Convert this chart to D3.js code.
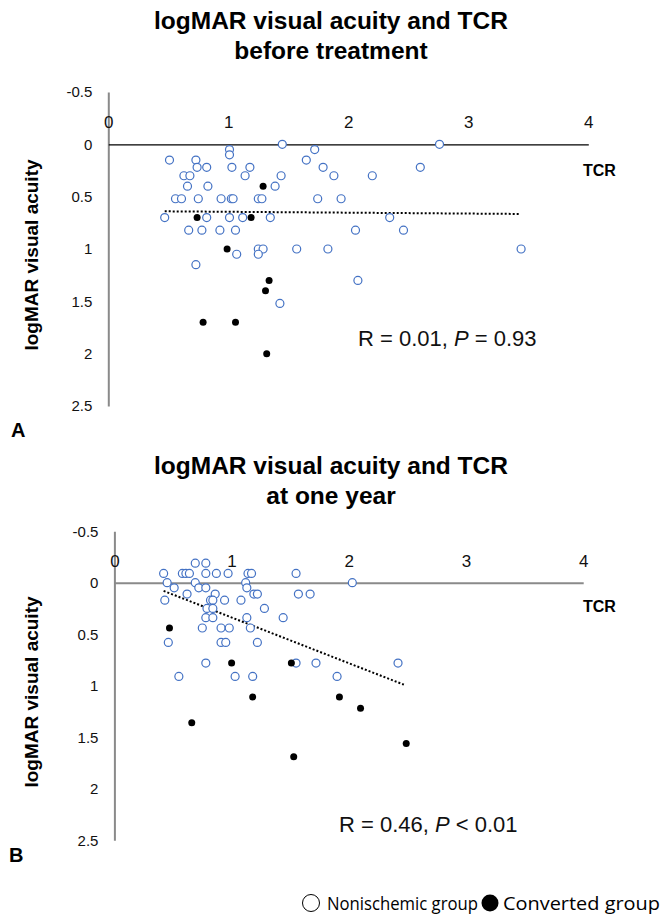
<!DOCTYPE html>
<html><head><meta charset="utf-8">
<script src="https://cdn.jsdelivr.net/npm/d3@7"></script>
<style>body{margin:0;background:#fff}svg{display:block}</style>
</head><body>
<script>
// ---------- data ----------
const xTickValues = [0, 1, 2, 3, 4];
const yTickValues = [-0.5, 0, 0.5, 1, 1.5, 2, 2.5];
const yTickLabels = ["-0.5", "0", "0.5", "1", "1.5", "2", "2.5"];

const titleA = ["logMAR visual acuity and TCR", "before treatment"];
const titleB = ["logMAR visual acuity and TCR", "at one year"];
const yAxisTitle = "logMAR visual acuity";
const xAxisTitle = "TCR";
const statsA = ["R = 0.01, ", "P", " = 0.93"];
const statsB = ["R = 0.46, ", "P", " < 0.01"];
const legendLabels = ["Nonischemic group", "Converted group"];

// before treatment: [TCR, logMAR]
const beforeNonischemic = [
  [1.45,0],[2.76,0],[1.01,0.05],[1.01,0.1],[0.51,0.15],[0.73,0.15],[1.72,0.05],[1.65,0.15],
  [0.74,0.22],[0.82,0.22],[1.03,0.22],[1.18,0.22],[1.79,0.22],[2.60,0.22],
  [0.63,0.3],[0.68,0.3],[1.14,0.3],[1.44,0.3],[1.88,0.3],[2.20,0.3],
  [0.66,0.4],[0.83,0.4],[1.39,0.4],
  [0.56,0.52],[0.61,0.52],[0.75,0.52],[0.94,0.52],[1.025,0.52],[1.04,0.52],[1.25,0.52],[1.28,0.52],[1.745,0.52],[1.94,0.52],
  [0.47,0.7],[0.82,0.7],[1.01,0.7],[1.12,0.7],[1.35,0.7],[2.345,0.7],
  [0.67,0.82],[0.78,0.82],[0.93,0.82],[1.06,0.82],[2.06,0.82],[2.46,0.82],
  [1.25,1.0],[1.29,1.0],[1.57,1.0],[1.83,1.0],[3.44,1.0],
  [1.07,1.05],[1.25,1.05],[0.73,1.15],[2.08,1.3],[1.43,1.52]
];
const beforeConverted = [
  [1.29,0.4],[0.74,0.7],[1.19,0.7],[0.99,1.0],[1.34,1.3],[1.31,1.4],[0.79,1.7],[1.06,1.7],[1.32,2.0]
];
const beforeTrend = [[0.47,0.64],[3.42,0.665]];

// at one year
const yearNonischemic = [
  [0.69,-0.19],[0.78,-0.19],
  [0.42,-0.09],[0.58,-0.09],[0.61,-0.09],[0.64,-0.09],[0.78,-0.09],[0.87,-0.09],[0.97,-0.09],[1.14,-0.09],[1.17,-0.09],[1.55,-0.09],
  [0.45,0],[0.69,0],[1.12,0],[2.03,0],
  [0.51,0.05],[0.72,0.05],[0.78,0.05],[1.13,0.05],
  [0.62,0.11],[0.86,0.11],[1.19,0.11],[1.22,0.11],[1.57,0.11],[1.67,0.11],
  [0.43,0.17],[0.82,0.17],[0.84,0.17],[0.94,0.17],[1.08,0.17],
  [0.79,0.25],[0.84,0.25],[1.28,0.25],
  [0.78,0.34],[0.84,0.34],[1.13,0.34],[1.44,0.34],
  [0.75,0.44],[0.91,0.44],[0.98,0.44],[1.16,0.44],
  [0.46,0.58],[0.91,0.58],[0.95,0.58],[1.22,0.58],
  [0.78,0.78],[1.55,0.78],[1.72,0.78],[2.42,0.78],
  [0.55,0.91],[1.03,0.91],[1.18,0.91],[1.90,0.91]
];
const yearConverted = [
  [0.47,0.44],[1.0,0.78],[1.51,0.78],[1.18,1.11],[1.92,1.11],[2.10,1.22],[0.66,1.36],[2.49,1.56],[1.53,1.69]
];
const yearTrend = [[0.42,0.08],[2.47,0.99]];

// ---------- drawing ----------
const W = 662, H = 915;
const svg = d3.select("body").append("svg").attr("width", W).attr("height", H);
const FONT = "'Liberation Sans', Arial, Helvetica, sans-serif";
const BLUE = "#4472c4";

function panel(cfg) {
  const x = d3.scaleLinear().domain([0, 4]).range(cfg.xr);
  const y = d3.scaleLinear().domain([-0.5, 2.5]).range(cfg.yr);
  const g = svg.append("g");

  // title
  g.append("text").attr("x", cfg.tx).attr("y", cfg.ty).attr("text-anchor", "middle")
    .attr("font-family", FONT).attr("font-weight", "bold").attr("font-size", 24.5)
    .selectAll("tspan").data(cfg.title).join("tspan")
    .attr("x", cfg.tx).attr("dy", (d, i) => i ? 30 : 0).text(d => d);

  // y axis
  const ya = d3.axisLeft(y).tickValues(yTickValues).tickFormat((d, i) => yTickLabels[i])
    .tickSize(0).tickPadding(16);
  const yg = g.append("g").attr("transform", `translate(${x(0)},0)`).call(ya);
  yg.select(".domain").attr("stroke", "#8a8a8a").attr("stroke-width", 2);
  yg.selectAll("text").attr("font-family", FONT).attr("font-size", 15).attr("fill", "#111");

  // x axis
  const xa = d3.axisTop(x).tickValues(xTickValues).tickFormat(d3.format("d"))
    .tickSize(0).tickPadding(16);
  const xg = g.append("g").attr("transform", `translate(0,${y(0)})`).call(xa);
  xg.select(".domain").attr("stroke", cfg.xAxisColor).attr("stroke-width", cfg.xAxisWidth);
  xg.selectAll("text").attr("font-family", FONT).attr("font-size", 17).attr("fill", "#111");

  // axis titles
  g.append("text").attr("transform", `translate(${cfg.ytx},${cfg.yty}) rotate(-90)`)
    .attr("text-anchor", "middle").attr("font-family", FONT).attr("font-weight", "bold")
    .attr("font-size", 19).text(yAxisTitle);
  g.append("text").attr("x", cfg.xtx).attr("y", cfg.xty)
    .attr("font-family", FONT).attr("font-weight", "bold").attr("font-size", 16).text(xAxisTitle);

  // trend line
  g.append("path").datum(cfg.trend)
    .attr("d", d3.line().x(d => x(d[0])).y(d => y(d[1])))
    .attr("fill", "none").attr("stroke", "#000").attr("stroke-width", 2).attr("stroke-dasharray", "2,2");

  // points
  g.append("g").selectAll("circle").data(cfg.open).join("circle")
    .attr("cx", d => x(d[0])).attr("cy", d => y(d[1])).attr("r", 4)
    .attr("fill", "#fff").attr("stroke", BLUE).attr("stroke-width", 1.2);
  g.append("g").selectAll("circle").data(cfg.filled).join("circle")
    .attr("cx", d => x(d[0])).attr("cy", d => y(d[1])).attr("r", 3.5)
    .attr("fill", "#000");

  // stats
  const st = g.append("text").attr("x", cfg.sx).attr("y", cfg.sy)
    .attr("font-family", FONT).attr("font-size", 22).attr("fill", "#111");
  st.selectAll("tspan").data(cfg.stats).join("tspan")
    .attr("font-style", (d, i) => i === 1 ? "italic" : "normal").text(d => d);

  // panel letter
  g.append("text").attr("x", cfg.lx).attr("y", cfg.ly).attr("font-family", FONT)
    .attr("font-weight", "bold").attr("font-size", 20).text(cfg.letter);
}

panel({
  xr: [108.3, 588.3], yr: [92, 406], title: titleA, tx: 331, ty: 29,
  xAxisColor: "#000", xAxisWidth: 1.2,
  ytx: 38, yty: 255, xtx: 583, xty: 176,
  trend: beforeTrend, open: beforeNonischemic, filled: beforeConverted,
  stats: statsA, sx: 358, sy: 346, letter: "A", lx: 11, ly: 437
});
panel({
  xr: [114.4, 583.2], yr: [531.2, 840.2], title: titleB, tx: 331, ty: 474,
  xAxisColor: "#8a8a8a", xAxisWidth: 2,
  ytx: 38, yty: 692, xtx: 583, xty: 612,
  trend: yearTrend, open: yearNonischemic, filled: yearConverted,
  stats: statsB, sx: 339, sy: 832, letter: "B", lx: 9, ly: 862
});

// legend
const lg = svg.append("g").attr("font-family", "'Open Sans', 'Noto Sans', sans-serif").attr("font-size", 18.5);
lg.append("circle").attr("cx", 311).attr("cy", 903).attr("r", 8.5).attr("fill", "#fff").attr("stroke", "#000").attr("stroke-width", 1);
lg.append("text").attr("x", 327).attr("y", 910).attr("textLength", 151).attr("lengthAdjust", "spacingAndGlyphs").text(legendLabels[0]);
lg.append("circle").attr("cx", 490).attr("cy", 903).attr("r", 8.5).attr("fill", "#000");
lg.append("text").attr("x", 503).attr("y", 910).attr("textLength", 157).attr("lengthAdjust", "spacingAndGlyphs").text(legendLabels[1]);
</script>
</body></html>
